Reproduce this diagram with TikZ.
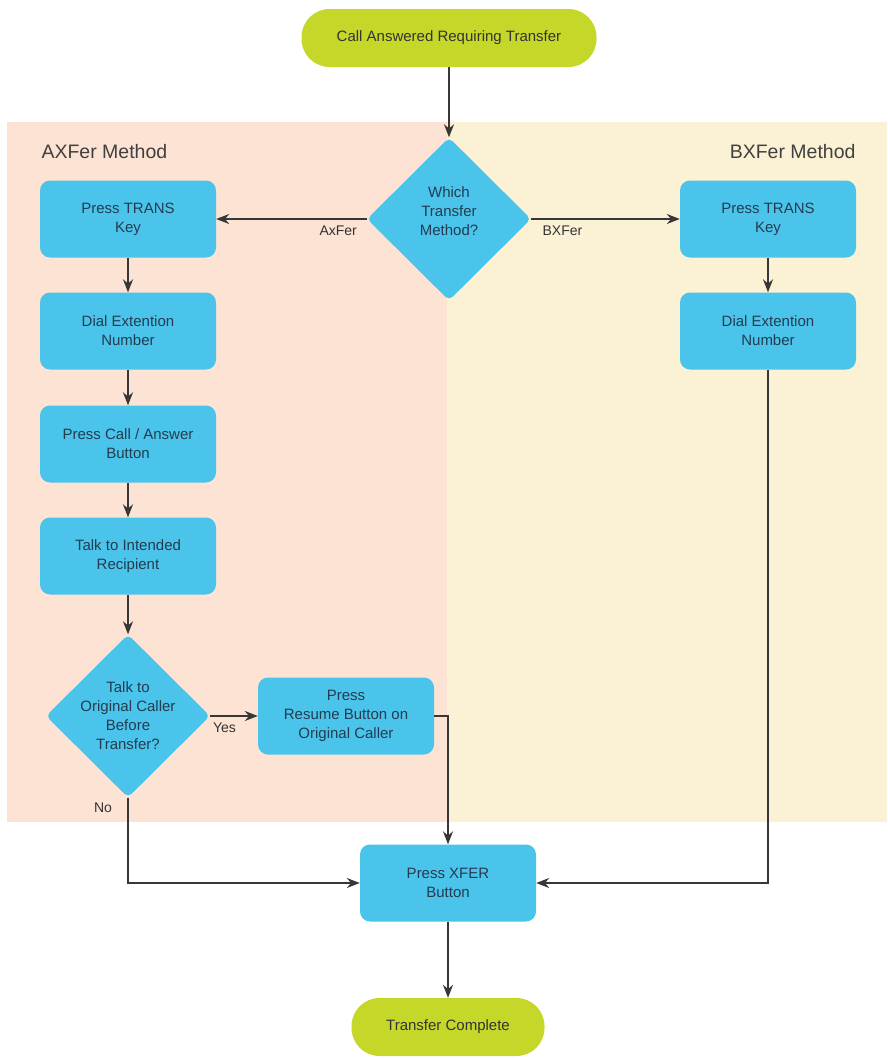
\documentclass[tikz,border=0pt]{standalone}
\usepackage{fontspec}
\setmainfont{Liberation Sans}
\usetikzlibrary{shapes.geometric,arrows.meta}
\definecolor{boxblue}{RGB}{75,196,235}
\definecolor{termgreen}{RGB}{197,216,42}
\definecolor{peach}{RGB}{252,227,211}
\definecolor{cream}{RGB}{251,242,213}
\definecolor{boxtext}{RGB}{35,60,80}
\definecolor{flowline}{RGB}{55,55,55}
\begin{document}
\begin{tikzpicture}[x=1pt,y=-1pt,
	process/.style={rectangle, rounded corners=10pt, fill=boxblue, minimum width=176pt, minimum height=77pt, align=center, text=boxtext, font=\fontsize{15}{19}\selectfont},
	terminal/.style={rectangle, rounded corners=28pt, fill=termgreen, minimum height=58pt, text=black!80, font=\fontsize{15}{19}\selectfont},
	decision/.style={diamond, rounded corners=5pt, fill=boxblue, minimum width=164pt, minimum height=163pt, inner sep=0pt},
	dtext/.style={align=center, text=boxtext, font=\fontsize{15}{19}\selectfont},
	flow/.style={draw=flowline, line width=1.5pt, -{Stealth[length=13pt,width=10pt]}},
	edgelabel/.style={text=black!80, font=\fontsize{14}{16}\selectfont},
	lanehead/.style={text=black!75, font=\fontsize{19.5}{22}\selectfont}]
	\fill[white] (0,0) rectangle (887,1058);
	\fill[peach] (7,122) rectangle (447,822);
	\fill[cream] (447,122) rectangle (887,822);
	\node [lanehead, anchor=west] (ahead) at (38,152) {AXFer Method};
	\node [lanehead, anchor=east] (bhead) at (859,152) {BXFer Method};

	\node [terminal, minimum width=295pt] (start) at (449,38) {Call Answered Requiring Transfer};
	\node [decision] (which) at (449,219) {};
	\node [dtext] at (449,211) {Which\\Transfer\\Method?};

	\node [process] (apress) at (128,219) {Press TRANS\\Key};
	\node [process] (adial) at (128,331) {Dial Extention\\Number};
	\node [process] (acall) at (128,444) {Press Call / Answer\\Button};
	\node [process] (atalk) at (128,556) {Talk to Intended\\Recipient};
	\node [decision] (ask) at (128,716) {};
	\node [dtext] at (128,716) {Talk to\\Original Caller\\Before\\Transfer?};
	\node [process] (resume) at (346,716) {Press\\Resume Button on\\Original Caller};

	\node [process] (bpress) at (768,219) {Press TRANS\\Key};
	\node [process] (bdial) at (768,331) {Dial Extention\\Number};

	\node [process] (xfer) at (448,883) {Press XFER\\Button};
	\node [terminal, minimum width=193pt] (done) at (448,1027) {Transfer Complete};

	\draw [flow] (start) -- (which);
	\draw [flow] (which.west) -- node [edgelabel, pos=0.19, below=3pt] {AxFer} (apress.east);
	\draw [flow] (which.east) -- node [edgelabel, pos=0.21, below=3pt] {BXFer} (bpress.west);
	\draw [flow] (apress) -- (adial);
	\draw [flow] (adial) -- (acall);
	\draw [flow] (acall) -- (atalk);
	\draw [flow] (atalk) -- (ask);
	\draw [flow] (ask.east) -- node [edgelabel, pos=0.3, below=3pt] {Yes} (resume.west);
	\draw [flow] (ask.south) |- node [edgelabel, pos=0.06, left=12pt] {No} (xfer.west);
	\draw [flow] (resume.east) -| (xfer.north);
	\draw [flow] (bpress) -- (bdial);
	\draw [flow] (bdial.south) |- (xfer.east);
	\draw [flow] (xfer) -- (done);
\end{tikzpicture}
\end{document}
